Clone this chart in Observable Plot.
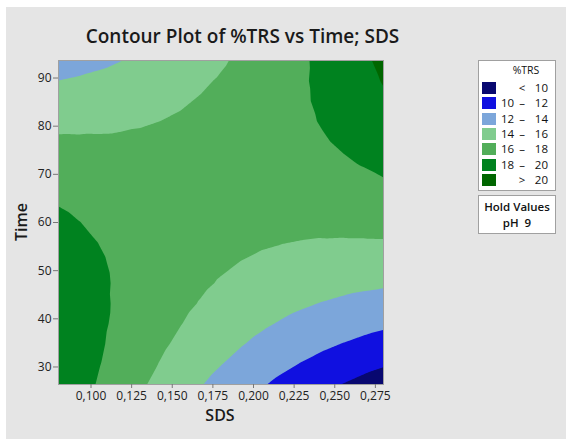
<!DOCTYPE html>
<html>
<head>
<meta charset="utf-8">
<script src="https://cdn.jsdelivr.net/npm/d3@7"></script>
<script src="https://cdn.jsdelivr.net/npm/@observablehq/plot@0.6"></script>
<style>
html, body { margin: 0; padding: 0; background: #fff; }
#page { position: relative; width: 566px; height: 439px; overflow: hidden; background: #fff; font-family: "Open Sans", sans-serif; color: #1a1a1a; }
#bg { position: absolute; left: 6px; top: 7px; right: 0; bottom: 0; background: #e5e5e5; }
#title { position: absolute; left: 0; width: 485px; top: 23px; text-align: center; font-size: 19px; font-weight: 600; white-space: nowrap; }
#chart { position: absolute; left: 0; top: 0; }
.axlabel { position: absolute; font-size: 16px; font-weight: 600; white-space: nowrap; line-height: 20px; }
.box { position: absolute; background: #fff; border: 1px solid #a0a0a0; box-sizing: border-box; }
.lg { position: absolute; font-size: 11.5px; line-height: 14px; white-space: nowrap; color: #111; }
.sw { position: absolute; width: 14px; height: 12px; }
</style>
</head>
<body>
<div id="page">
  <div id="bg"></div>
  <div id="title"></div>
  <div id="chart"></div>
</div>
<script>
// ---- data ----
const sdsLevels  = [0.08, 0.0925, 0.105, 0.1175, 0.13, 0.1425, 0.155, 0.1675, 0.18, 0.1925, 0.205, 0.2175, 0.23, 0.2425, 0.255, 0.2675, 0.28];
const timeLevels = [26.36, 30.57, 34.77, 38.98, 43.18, 47.39, 51.59, 55.80, 60, 64.21, 68.41, 72.62, 76.82, 81.03, 85.23, 89.44, 93.64];
// %TRS estimated at each (Time row, SDS column)
const trsRows = [
  [19.54, 18.68, 17.85, 17.05, 16.27, 15.52, 14.79, 14.09, 13.42, 12.78, 12.16, 11.56, 11.00, 10.46,  9.95,  9.46,  9.00],
  [19.61, 18.82, 18.06, 17.32, 16.61, 15.93, 15.27, 14.64, 14.04, 13.46, 12.91, 12.39, 11.89, 11.42, 10.98, 10.56, 10.17],
  [19.62, 18.90, 18.20, 17.53, 16.89, 16.28, 15.69, 15.13, 14.60, 14.09, 13.61, 13.15, 12.72, 12.32, 11.95, 11.60, 11.28],
  [19.56, 18.91, 18.28, 17.68, 17.11, 16.57, 16.05, 15.55, 15.09, 14.65, 14.24, 13.85, 13.49, 13.16, 12.85, 12.57, 12.32],
  [19.44, 18.86, 18.30, 17.77, 17.27, 16.79, 16.34, 15.92, 15.52, 15.15, 14.81, 14.49, 14.20, 13.93, 13.70, 13.49, 13.30],
  [19.26, 18.75, 18.26, 17.80, 17.36, 16.95, 16.57, 16.22, 15.89, 15.59, 15.31, 15.06, 14.84, 14.65, 14.48, 14.34, 14.22],
  [19.02, 18.57, 18.15, 17.76, 17.39, 17.05, 16.74, 16.45, 16.20, 15.96, 15.76, 15.58, 15.42, 15.30, 15.20, 15.12, 15.08],
  [18.71, 18.33, 17.98, 17.66, 17.36, 17.09, 16.85, 16.63, 16.44, 16.28, 16.14, 16.03, 15.94, 15.88, 15.85, 15.85, 15.87],
  [18.34, 18.03, 17.75, 17.50, 17.27, 17.07, 16.89, 16.74, 16.62, 16.53, 16.46, 16.41, 16.40, 16.41, 16.45, 16.51, 16.60],
  [17.91, 17.67, 17.46, 17.27, 17.11, 16.98, 16.87, 16.79, 16.74, 16.71, 16.71, 16.74, 16.79, 16.87, 16.98, 17.11, 17.27],
  [17.42, 17.24, 17.10, 16.98, 16.89, 16.83, 16.79, 16.78, 16.80, 16.84, 16.91, 17.00, 17.12, 17.27, 17.45, 17.65, 17.88],
  [16.86, 16.76, 16.68, 16.63, 16.61, 16.62, 16.65, 16.71, 16.79, 16.90, 17.04, 17.20, 17.39, 17.61, 17.85, 18.12, 18.42],
  [16.24, 16.21, 16.20, 16.22, 16.27, 16.34, 16.44, 16.57, 16.72, 16.90, 17.11, 17.34, 17.60, 17.88, 18.20, 18.54, 18.90],
  [15.56, 15.60, 15.66, 15.75, 15.86, 16.00, 16.17, 16.37, 16.59, 16.84, 17.11, 17.41, 17.74, 18.10, 18.48, 18.89, 19.32],
  [14.82, 14.92, 15.05, 15.21, 15.39, 15.60, 15.84, 16.11, 16.40, 16.71, 17.06, 17.43, 17.82, 18.25, 18.70, 19.17, 19.75],
  [14.01, 14.18, 14.38, 14.61, 14.86, 15.14, 15.45, 15.78, 16.14, 16.53, 16.94, 17.38, 17.84, 18.33, 18.85, 19.50, 20.10],
  [13.14, 13.38, 13.65, 13.95, 14.27, 14.62, 14.99, 15.39, 15.82, 16.28, 16.76, 17.26, 17.80, 18.36, 18.95, 19.70, 20.40]
];
const bandThresholds = [0, 10, 12, 14, 16, 18, 20];
const bandColors = ["#080870", "#1010e0", "#7ca6da", "#80cc8e", "#52ae5a", "#00821f", "#006600"];
const bandLabels = [["", "<", "10"], ["10", "–", "12"], ["12", "–", "14"], ["14", "–", "16"], ["16", "–", "18"], ["18", "–", "20"], ["", ">", "20"]];
const sdsTicks  = [0.100, 0.125, 0.150, 0.175, 0.200, 0.225, 0.250, 0.275];
const timeTicks = [30, 40, 50, 60, 70, 80, 90];
const titleText = "Contour Plot of %TRS vs Time; SDS";
const xLabel = "SDS";
const yLabel = "Time";
const legendTitle = "%TRS";
const holdTitle = "Hold Values";
const holdValues = ["pH", "9"];

// ---- build ----
const points = [];
timeLevels.forEach((t, i) => sdsLevels.forEach((s, j) => points.push({sds: s, time: t, trs: trsRows[i][j]})));

const fmt = d3.formatLocale({decimal: ",", thousands: ".", grouping: [3], currency: ["", ""]}).format(".3f");

const chart = Plot.plot({
  width: 400,
  height: 439,
  marginLeft: 58,
  marginRight: 17,
  marginTop: 60,
  marginBottom: 55,
  style: {background: "transparent", fontFamily: "Open Sans, sans-serif", fontSize: "12px", color: "#222"},
  x: {domain: [0.08, 0.28]},
  y: {domain: [26.36, 93.64]},
  color: {type: "threshold", domain: bandThresholds.slice(1), range: bandColors},
  marks: [
    Plot.contour(points, {x: "sds", y: "time", fill: "trs", thresholds: bandThresholds, interpolate: "barycentric", pixelSize: 1, stroke: "none"}),
    Plot.frame({stroke: "#a0a0a0"}),
    Plot.axisX({ticks: sdsTicks, tickFormat: fmt, tickSize: 4, tickPadding: 3, label: null, stroke: "#777"}),
    Plot.axisY({ticks: timeTicks, tickSize: 5, tickPadding: 2, label: null, stroke: "#777"})
  ]
});
document.getElementById("chart").appendChild(chart);
document.getElementById("title").textContent = titleText;

const page = document.getElementById("page");
function add(cls, text, css) {
  const el = document.createElement("div");
  el.className = cls;
  if (text != null) el.textContent = text;
  Object.assign(el.style, css);
  page.appendChild(el);
  return el;
}
// axis labels
add("axlabel", xLabel, {left: "170px", width: "100px", textAlign: "center", top: "405px"});
add("axlabel", yLabel, {left: "-29px", width: "100px", textAlign: "center", top: "212px", transform: "rotate(-90deg)"});

// legend box
add("box", null, {left: "478px", top: "60px", width: "78px", height: "131px"});
add("lg", legendTitle, {left: "500px", width: "52px", textAlign: "center", top: "63px", fontSize: "10.5px"});
bandColors.forEach((c, i) => {
  const cy = 87.7 + 15.4 * i;
  add("sw", null, {left: "482px", top: (cy - 6) + "px", background: c});
  const [a, b, z] = bandLabels[i];
  if (a) add("lg", a, {left: "501px", top: (cy - 7) + "px"});
  add("lg", b, {left: "512px", width: "20px", textAlign: "center", top: (cy - 7) + "px"});
  add("lg", z, {left: "527px", width: "21px", textAlign: "right", top: (cy - 7) + "px"});
});
// hold values box
add("box", null, {left: "478px", top: "195px", width: "78px", height: "39px"});
add("lg", holdTitle, {left: "478px", width: "78px", textAlign: "center", top: "200px", fontWeight: "600"});
add("lg", holdValues.join("  "), {left: "478px", width: "78px", textAlign: "center", top: "216px", fontWeight: "600", whiteSpace: "pre"});
</script>
</body>
</html>
